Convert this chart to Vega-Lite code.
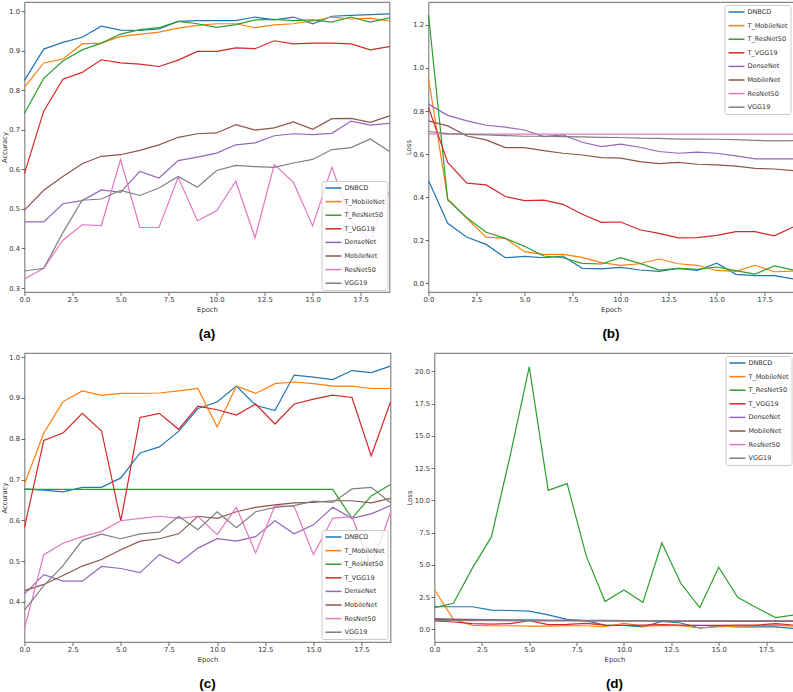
{
"$schema":"https://vega.github.io/schema/vega-lite/v6.json",
"padding":{"left":0.5,"top":1,"right":0,"bottom":0},
"background":"white",
"datasets":{
"a":[
{"Epoch":0,"DNBCD":0.825,"T_MobileNet":0.808,"T_ResNet50":0.742,"T_VGG19":0.590,"DenseNet":0.467,"MobileNet":0.497,"ResNet50":0.323,"VGG19":0.343},
{"Epoch":1,"DNBCD":0.904,"T_MobileNet":0.869,"T_ResNet50":0.830,"T_VGG19":0.747,"DenseNet":0.467,"MobileNet":0.547,"ResNet50":0.350,"VGG19":0.350},
{"Epoch":2,"DNBCD":0.921,"T_MobileNet":0.879,"T_ResNet50":0.874,"T_VGG19":0.828,"DenseNet":0.513,"MobileNet":0.582,"ResNet50":0.421,"VGG19":0.440},
{"Epoch":3,"DNBCD":0.934,"T_MobileNet":0.917,"T_ResNet50":0.902,"T_VGG19":0.845,"DenseNet":0.521,"MobileNet":0.614,"ResNet50":0.460,"VGG19":0.522},
{"Epoch":4,"DNBCD":0.962,"T_MobileNet":0.919,"T_ResNet50":0.919,"T_VGG19":0.877,"DenseNet":0.548,"MobileNet":0.633,"ResNet50":0.458,"VGG19":0.525},
{"Epoch":5,"DNBCD":0.952,"T_MobileNet":0.936,"T_ResNet50":0.942,"T_VGG19":0.869,"DenseNet":0.542,"MobileNet":0.637,"ResNet50":0.625,"VGG19":0.547},
{"Epoch":6,"DNBCD":0.951,"T_MobileNet":0.941,"T_ResNet50":0.953,"T_VGG19":0.866,"DenseNet":0.595,"MobileNet":0.648,"ResNet50":0.453,"VGG19":0.534},
{"Epoch":7,"DNBCD":0.955,"T_MobileNet":0.947,"T_ResNet50":0.958,"T_VGG19":0.860,"DenseNet":0.578,"MobileNet":0.662,"ResNet50":0.453,"VGG19":0.553},
{"Epoch":8,"DNBCD":0.974,"T_MobileNet":0.957,"T_ResNet50":0.974,"T_VGG19":0.876,"DenseNet":0.622,"MobileNet":0.681,"ResNet50":0.580,"VGG19":0.582},
{"Epoch":9,"DNBCD":0.976,"T_MobileNet":0.964,"T_ResNet50":0.968,"T_VGG19":0.898,"DenseNet":0.631,"MobileNet":0.690,"ResNet50":0.470,"VGG19":0.555},
{"Epoch":10,"DNBCD":0.976,"T_MobileNet":0.968,"T_ResNet50":0.959,"T_VGG19":0.898,"DenseNet":0.641,"MobileNet":0.692,"ResNet50":0.495,"VGG19":0.597},
{"Epoch":11,"DNBCD":0.976,"T_MobileNet":0.968,"T_ResNet50":0.966,"T_VGG19":0.907,"DenseNet":0.662,"MobileNet":0.713,"ResNet50":0.570,"VGG19":0.610},
{"Epoch":12,"DNBCD":0.985,"T_MobileNet":0.958,"T_ResNet50":0.978,"T_VGG19":0.905,"DenseNet":0.667,"MobileNet":0.699,"ResNet50":0.427,"VGG19":0.607},
{"Epoch":13,"DNBCD":0.978,"T_MobileNet":0.965,"T_ResNet50":0.979,"T_VGG19":0.925,"DenseNet":0.685,"MobileNet":0.705,"ResNet50":0.612,"VGG19":0.605},
{"Epoch":14,"DNBCD":0.985,"T_MobileNet":0.968,"T_ResNet50":0.976,"T_VGG19":0.917,"DenseNet":0.690,"MobileNet":0.720,"ResNet50":0.567,"VGG19":0.616},
{"Epoch":15,"DNBCD":0.968,"T_MobileNet":0.975,"T_ResNet50":0.978,"T_VGG19":0.919,"DenseNet":0.688,"MobileNet":0.701,"ResNet50":0.457,"VGG19":0.625},
{"Epoch":16,"DNBCD":0.987,"T_MobileNet":0.985,"T_ResNet50":0.972,"T_VGG19":0.919,"DenseNet":0.691,"MobileNet":0.728,"ResNet50":0.605,"VGG19":0.650},
{"Epoch":17,"DNBCD":0.989,"T_MobileNet":0.980,"T_ResNet50":0.985,"T_VGG19":0.917,"DenseNet":0.722,"MobileNet":0.729,"ResNet50":0.470,"VGG19":0.655},
{"Epoch":18,"DNBCD":0.991,"T_MobileNet":0.982,"T_ResNet50":0.972,"T_VGG19":0.902,"DenseNet":0.712,"MobileNet":0.719,"ResNet50":0.420,"VGG19":0.677},
{"Epoch":19,"DNBCD":0.993,"T_MobileNet":0.975,"T_ResNet50":0.983,"T_VGG19":0.910,"DenseNet":0.716,"MobileNet":0.735,"ResNet50":0.545,"VGG19":0.645}
],
"b":[
{"Epoch":0,"DNBCD":0.477,"T_MobileNet":0.952,"T_ResNet50":1.246,"T_VGG19":0.816,"DenseNet":0.832,"MobileNet":0.754,"ResNet50":0.694,"VGG19":0.705},
{"Epoch":1,"DNBCD":0.279,"T_MobileNet":0.392,"T_ResNet50":0.387,"T_VGG19":0.561,"DenseNet":0.780,"MobileNet":0.731,"ResNet50":0.693,"VGG19":0.695},
{"Epoch":2,"DNBCD":0.214,"T_MobileNet":0.302,"T_ResNet50":0.305,"T_VGG19":0.465,"DenseNet":0.754,"MobileNet":0.684,"ResNet50":0.693,"VGG19":0.692},
{"Epoch":3,"DNBCD":0.181,"T_MobileNet":0.215,"T_ResNet50":0.237,"T_VGG19":0.457,"DenseNet":0.734,"MobileNet":0.666,"ResNet50":0.693,"VGG19":0.689},
{"Epoch":4,"DNBCD":0.119,"T_MobileNet":0.209,"T_ResNet50":0.209,"T_VGG19":0.403,"DenseNet":0.725,"MobileNet":0.630,"ResNet50":0.693,"VGG19":0.686},
{"Epoch":5,"DNBCD":0.125,"T_MobileNet":0.147,"T_ResNet50":0.172,"T_VGG19":0.384,"DenseNet":0.712,"MobileNet":0.630,"ResNet50":0.693,"VGG19":0.683},
{"Epoch":6,"DNBCD":0.119,"T_MobileNet":0.135,"T_ResNet50":0.127,"T_VGG19":0.386,"DenseNet":0.681,"MobileNet":0.616,"ResNet50":0.693,"VGG19":0.683},
{"Epoch":7,"DNBCD":0.127,"T_MobileNet":0.135,"T_ResNet50":0.119,"T_VGG19":0.367,"DenseNet":0.689,"MobileNet":0.604,"ResNet50":0.693,"VGG19":0.681},
{"Epoch":8,"DNBCD":0.070,"T_MobileNet":0.121,"T_ResNet50":0.093,"T_VGG19":0.321,"DenseNet":0.655,"MobileNet":0.596,"ResNet50":0.693,"VGG19":0.680},
{"Epoch":9,"DNBCD":0.067,"T_MobileNet":0.096,"T_ResNet50":0.090,"T_VGG19":0.283,"DenseNet":0.635,"MobileNet":0.584,"ResNet50":0.693,"VGG19":0.678},
{"Epoch":10,"DNBCD":0.074,"T_MobileNet":0.084,"T_ResNet50":0.119,"T_VGG19":0.285,"DenseNet":0.646,"MobileNet":0.581,"ResNet50":0.693,"VGG19":0.677},
{"Epoch":11,"DNBCD":0.062,"T_MobileNet":0.091,"T_ResNet50":0.093,"T_VGG19":0.249,"DenseNet":0.632,"MobileNet":0.565,"ResNet50":0.693,"VGG19":0.674},
{"Epoch":12,"DNBCD":0.056,"T_MobileNet":0.113,"T_ResNet50":0.062,"T_VGG19":0.232,"DenseNet":0.612,"MobileNet":0.556,"ResNet50":0.693,"VGG19":0.673},
{"Epoch":13,"DNBCD":0.070,"T_MobileNet":0.091,"T_ResNet50":0.070,"T_VGG19":0.211,"DenseNet":0.604,"MobileNet":0.562,"ResNet50":0.693,"VGG19":0.670},
{"Epoch":14,"DNBCD":0.060,"T_MobileNet":0.084,"T_ResNet50":0.065,"T_VGG19":0.212,"DenseNet":0.609,"MobileNet":0.553,"ResNet50":0.693,"VGG19":0.670},
{"Epoch":15,"DNBCD":0.094,"T_MobileNet":0.060,"T_ResNet50":0.076,"T_VGG19":0.223,"DenseNet":0.604,"MobileNet":0.550,"ResNet50":0.693,"VGG19":0.669},
{"Epoch":16,"DNBCD":0.042,"T_MobileNet":0.056,"T_ResNet50":0.059,"T_VGG19":0.240,"DenseNet":0.592,"MobileNet":0.544,"ResNet50":0.693,"VGG19":0.667},
{"Epoch":17,"DNBCD":0.036,"T_MobileNet":0.084,"T_ResNet50":0.043,"T_VGG19":0.240,"DenseNet":0.578,"MobileNet":0.534,"ResNet50":0.693,"VGG19":0.664},
{"Epoch":18,"DNBCD":0.036,"T_MobileNet":0.054,"T_ResNet50":0.081,"T_VGG19":0.221,"DenseNet":0.578,"MobileNet":0.531,"ResNet50":0.693,"VGG19":0.661},
{"Epoch":19,"DNBCD":0.020,"T_MobileNet":0.057,"T_ResNet50":0.062,"T_VGG19":0.262,"DenseNet":0.578,"MobileNet":0.523,"ResNet50":0.693,"VGG19":0.663}
],
"c":[
{"Epoch":0,"DNBCD":0.677,"T_MobileNet":0.689,"T_ResNet50":0.676,"T_VGG19":0.583,"DenseNet":0.420,"MobileNet":0.428,"ResNet50":0.335,"VGG19":0.380},
{"Epoch":1,"DNBCD":0.674,"T_MobileNet":0.814,"T_ResNet50":0.676,"T_VGG19":0.796,"DenseNet":0.467,"MobileNet":0.443,"ResNet50":0.516,"VGG19":0.440},
{"Epoch":2,"DNBCD":0.670,"T_MobileNet":0.891,"T_ResNet50":0.676,"T_VGG19":0.814,"DenseNet":0.451,"MobileNet":0.465,"ResNet50":0.544,"VGG19":0.489},
{"Epoch":3,"DNBCD":0.681,"T_MobileNet":0.917,"T_ResNet50":0.676,"T_VGG19":0.862,"DenseNet":0.451,"MobileNet":0.488,"ResNet50":0.560,"VGG19":0.551},
{"Epoch":4,"DNBCD":0.681,"T_MobileNet":0.906,"T_ResNet50":0.676,"T_VGG19":0.819,"DenseNet":0.487,"MobileNet":0.504,"ResNet50":0.573,"VGG19":0.566},
{"Epoch":5,"DNBCD":0.704,"T_MobileNet":0.911,"T_ResNet50":0.676,"T_VGG19":0.599,"DenseNet":0.482,"MobileNet":0.528,"ResNet50":0.599,"VGG19":0.555},
{"Epoch":6,"DNBCD":0.765,"T_MobileNet":0.911,"T_ResNet50":0.676,"T_VGG19":0.852,"DenseNet":0.472,"MobileNet":0.549,"ResNet50":0.605,"VGG19":0.567},
{"Epoch":7,"DNBCD":0.780,"T_MobileNet":0.912,"T_ResNet50":0.676,"T_VGG19":0.862,"DenseNet":0.516,"MobileNet":0.555,"ResNet50":0.610,"VGG19":0.571},
{"Epoch":8,"DNBCD":0.818,"T_MobileNet":0.917,"T_ResNet50":0.676,"T_VGG19":0.823,"DenseNet":0.495,"MobileNet":0.567,"ResNet50":0.605,"VGG19":0.610},
{"Epoch":9,"DNBCD":0.874,"T_MobileNet":0.923,"T_ResNet50":0.676,"T_VGG19":0.880,"DenseNet":0.532,"MobileNet":0.610,"ResNet50":0.610,"VGG19":0.577},
{"Epoch":10,"DNBCD":0.890,"T_MobileNet":0.829,"T_ResNet50":0.676,"T_VGG19":0.871,"DenseNet":0.555,"MobileNet":0.605,"ResNet50":0.565,"VGG19":0.621},
{"Epoch":11,"DNBCD":0.929,"T_MobileNet":0.929,"T_ResNet50":0.676,"T_VGG19":0.858,"DenseNet":0.549,"MobileNet":0.621,"ResNet50":0.632,"VGG19":0.582},
{"Epoch":12,"DNBCD":0.882,"T_MobileNet":0.911,"T_ResNet50":0.676,"T_VGG19":0.885,"DenseNet":0.560,"MobileNet":0.632,"ResNet50":0.520,"VGG19":0.621},
{"Epoch":13,"DNBCD":0.869,"T_MobileNet":0.935,"T_ResNet50":0.676,"T_VGG19":0.836,"DenseNet":0.599,"MobileNet":0.638,"ResNet50":0.636,"VGG19":0.632},
{"Epoch":14,"DNBCD":0.956,"T_MobileNet":0.939,"T_ResNet50":0.676,"T_VGG19":0.885,"DenseNet":0.567,"MobileNet":0.643,"ResNet50":0.634,"VGG19":0.636},
{"Epoch":15,"DNBCD":0.951,"T_MobileNet":0.935,"T_ResNet50":0.676,"T_VGG19":0.897,"DenseNet":0.589,"MobileNet":0.644,"ResNet50":0.516,"VGG19":0.647},
{"Epoch":16,"DNBCD":0.945,"T_MobileNet":0.929,"T_ResNet50":0.676,"T_VGG19":0.907,"DenseNet":0.632,"MobileNet":0.648,"ResNet50":0.605,"VGG19":0.644},
{"Epoch":17,"DNBCD":0.967,"T_MobileNet":0.929,"T_ResNet50":0.605,"T_VGG19":0.901,"DenseNet":0.605,"MobileNet":0.648,"ResNet50":0.609,"VGG19":0.677},
{"Epoch":18,"DNBCD":0.962,"T_MobileNet":0.923,"T_ResNet50":0.660,"T_VGG19":0.758,"DenseNet":0.616,"MobileNet":0.643,"ResNet50":0.485,"VGG19":0.681},
{"Epoch":19,"DNBCD":0.978,"T_MobileNet":0.923,"T_ResNet50":0.688,"T_VGG19":0.890,"DenseNet":0.636,"MobileNet":0.654,"ResNet50":0.620,"VGG19":0.643}
],
"d":[
{"Epoch":0,"DNBCD":1.76,"T_MobileNet":3.06,"T_ResNet50":1.69,"T_VGG19":0.66,"DenseNet":0.84,"MobileNet":0.78,"ResNet50":0.693,"VGG19":0.71},
{"Epoch":1,"DNBCD":1.76,"T_MobileNet":0.79,"T_ResNet50":2.03,"T_VGG19":0.58,"DenseNet":0.80,"MobileNet":0.76,"ResNet50":0.693,"VGG19":0.70},
{"Epoch":2,"DNBCD":1.76,"T_MobileNet":0.32,"T_ResNet50":4.75,"T_VGG19":0.45,"DenseNet":0.78,"MobileNet":0.74,"ResNet50":0.693,"VGG19":0.70},
{"Epoch":3,"DNBCD":1.50,"T_MobileNet":0.29,"T_ResNet50":7.17,"T_VGG19":0.42,"DenseNet":0.76,"MobileNet":0.72,"ResNet50":0.693,"VGG19":0.70},
{"Epoch":4,"DNBCD":1.47,"T_MobileNet":0.29,"T_ResNet50":13.5,"T_VGG19":0.45,"DenseNet":0.75,"MobileNet":0.71,"ResNet50":0.693,"VGG19":0.69},
{"Epoch":5,"DNBCD":1.42,"T_MobileNet":0.26,"T_ResNet50":20.34,"T_VGG19":0.68,"DenseNet":0.74,"MobileNet":0.70,"ResNet50":0.693,"VGG19":0.69},
{"Epoch":6,"DNBCD":1.13,"T_MobileNet":0.26,"T_ResNet50":10.78,"T_VGG19":0.37,"DenseNet":0.73,"MobileNet":0.69,"ResNet50":0.693,"VGG19":0.69},
{"Epoch":7,"DNBCD":0.79,"T_MobileNet":0.30,"T_ResNet50":11.3,"T_VGG19":0.39,"DenseNet":0.72,"MobileNet":0.68,"ResNet50":0.693,"VGG19":0.69},
{"Epoch":8,"DNBCD":0.66,"T_MobileNet":0.29,"T_ResNet50":5.74,"T_VGG19":0.47,"DenseNet":0.71,"MobileNet":0.67,"ResNet50":0.693,"VGG19":0.69},
{"Epoch":9,"DNBCD":0.34,"T_MobileNet":0.21,"T_ResNet50":2.16,"T_VGG19":0.34,"DenseNet":0.70,"MobileNet":0.67,"ResNet50":0.693,"VGG19":0.68},
{"Epoch":10,"DNBCD":0.32,"T_MobileNet":0.47,"T_ResNet50":3.06,"T_VGG19":0.32,"DenseNet":0.69,"MobileNet":0.66,"ResNet50":0.693,"VGG19":0.68},
{"Epoch":11,"DNBCD":0.20,"T_MobileNet":0.26,"T_ResNet50":2.10,"T_VGG19":0.34,"DenseNet":0.69,"MobileNet":0.66,"ResNet50":0.693,"VGG19":0.68},
{"Epoch":12,"DNBCD":0.63,"T_MobileNet":0.29,"T_ResNet50":6.70,"T_VGG19":0.37,"DenseNet":0.68,"MobileNet":0.65,"ResNet50":0.693,"VGG19":0.68},
{"Epoch":13,"DNBCD":0.50,"T_MobileNet":0.29,"T_ResNet50":3.58,"T_VGG19":0.34,"DenseNet":0.67,"MobileNet":0.65,"ResNet50":0.693,"VGG19":0.67},
{"Epoch":14,"DNBCD":0.10,"T_MobileNet":0.13,"T_ResNet50":1.69,"T_VGG19":0.32,"DenseNet":0.67,"MobileNet":0.64,"ResNet50":0.693,"VGG19":0.67},
{"Epoch":15,"DNBCD":0.25,"T_MobileNet":0.21,"T_ResNet50":4.83,"T_VGG19":0.32,"DenseNet":0.66,"MobileNet":0.64,"ResNet50":0.693,"VGG19":0.67},
{"Epoch":16,"DNBCD":0.20,"T_MobileNet":0.26,"T_ResNet50":2.50,"T_VGG19":0.34,"DenseNet":0.66,"MobileNet":0.63,"ResNet50":0.693,"VGG19":0.67},
{"Epoch":17,"DNBCD":0.20,"T_MobileNet":0.30,"T_ResNet50":1.68,"T_VGG19":0.34,"DenseNet":0.65,"MobileNet":0.63,"ResNet50":0.693,"VGG19":0.66},
{"Epoch":18,"DNBCD":0.20,"T_MobileNet":0.34,"T_ResNet50":0.92,"T_VGG19":0.45,"DenseNet":0.65,"MobileNet":0.62,"ResNet50":0.693,"VGG19":0.66},
{"Epoch":19,"DNBCD":0.08,"T_MobileNet":0.26,"T_ResNet50":1.13,"T_VGG19":0.34,"DenseNet":0.64,"MobileNet":0.62,"ResNet50":0.693,"VGG19":0.66}
]
},
"vconcat":[
{"hconcat":[
{"width":365,"height":290,"data":{"name":"a"},
 "transform":[{"fold":["DNBCD","T_MobileNet","T_ResNet50","T_VGG19","DenseNet","MobileNet","ResNet50","VGG19"],"as":["Model","Value"]}],
 "mark":{"type":"line","strokeWidth":1.2},
 "encoding":{
  "x":{"field":"Epoch","type":"quantitative","scale":{"domain":[0,19],"nice":false,"zero":false},"axis":{"values":[0,2.5,5,7.5,10,12.5,15,17.5],"format":".1f","title":"Epoch"}},
  "y":{"field":"Value","type":"quantitative","scale":{"domain":[0.29,1.023],"nice":false,"zero":false},"axis":{"values":[0.3,0.4,0.5,0.6,0.7,0.8,0.9,1.0],"format":".1f","title":"Accuracy"}},
  "color":{"field":"Model","type":"nominal","scale":{"domain":["DNBCD","T_MobileNet","T_ResNet50","T_VGG19","DenseNet","MobileNet","ResNet50","VGG19"],"range":["#1f77b4","#ff7f0e","#2ca02c","#d62728","#9467bd","#8c564b","#e377c2","#7f7f7f"]},"legend":{"orient":"bottom-right","offset":2}}
 },
 "title":{"text":"(a)"}
},
{"width":365,"height":290,"data":{"name":"b"},
 "transform":[{"fold":["DNBCD","T_MobileNet","T_ResNet50","T_VGG19","DenseNet","MobileNet","ResNet50","VGG19"],"as":["Model","Value"]}],
 "mark":{"type":"line","strokeWidth":1.2},
 "encoding":{
  "x":{"field":"Epoch","type":"quantitative","scale":{"domain":[0,19],"nice":false,"zero":false},"axis":{"values":[0,2.5,5,7.5,10,12.5,15,17.5],"format":".1f","title":"Epoch"}},
  "y":{"field":"Value","type":"quantitative","scale":{"domain":[-0.04,1.306],"nice":false,"zero":false},"axis":{"values":[0,0.2,0.4,0.6,0.8,1.0,1.2],"format":".1f","title":"Loss"}},
  "color":{"field":"Model","type":"nominal","scale":{"domain":["DNBCD","T_MobileNet","T_ResNet50","T_VGG19","DenseNet","MobileNet","ResNet50","VGG19"],"range":["#1f77b4","#ff7f0e","#2ca02c","#d62728","#9467bd","#8c564b","#e377c2","#7f7f7f"]},"legend":{"orient":"top-right","offset":3}}
 },
 "title":{"text":"(b)"}
}
],"spacing":12,"resolve":{"scale":{"color":"independent"},"legend":{"color":"independent"}}},
{"hconcat":[
{"width":366,"height":289,"data":{"name":"c"},
 "transform":[{"fold":["DNBCD","T_MobileNet","T_ResNet50","T_VGG19","DenseNet","MobileNet","ResNet50","VGG19"],"as":["Model","Value"]}],
 "mark":{"type":"line","strokeWidth":1.2},
 "encoding":{
  "x":{"field":"Epoch","type":"quantitative","scale":{"domain":[0,19],"nice":false,"zero":false},"axis":{"values":[0,2.5,5,7.5,10,12.5,15,17.5],"format":".1f","title":"Epoch"}},
  "y":{"field":"Value","type":"quantitative","scale":{"domain":[0.302,1.010],"nice":false,"zero":false},"axis":{"values":[0.4,0.5,0.6,0.7,0.8,0.9,1.0],"format":".1f","title":"Accuracy"}},
  "color":{"field":"Model","type":"nominal","scale":{"domain":["DNBCD","T_MobileNet","T_ResNet50","T_VGG19","DenseNet","MobileNet","ResNet50","VGG19"],"range":["#1f77b4","#ff7f0e","#2ca02c","#d62728","#9467bd","#8c564b","#e377c2","#7f7f7f"]},"legend":{"orient":"bottom-right","offset":3}}
 },
 "title":{"text":"(c)"}
},
{"width":360,"height":289,"data":{"name":"d"},
 "transform":[{"fold":["DNBCD","T_MobileNet","T_ResNet50","T_VGG19","DenseNet","MobileNet","ResNet50","VGG19"],"as":["Model","Value"]}],
 "mark":{"type":"line","strokeWidth":1.2},
 "encoding":{
  "x":{"field":"Epoch","type":"quantitative","scale":{"domain":[0,19],"nice":false,"zero":false},"axis":{"values":[0,2.5,5,7.5,10,12.5,15,17.5],"format":".1f","title":"Epoch"}},
  "y":{"field":"Value","type":"quantitative","scale":{"domain":[-0.97,21.42],"nice":false,"zero":false},"axis":{"values":[0,2.5,5,7.5,10,12.5,15,17.5,20],"format":".1f","title":"Loss"}},
  "color":{"field":"Model","type":"nominal","scale":{"domain":["DNBCD","T_MobileNet","T_ResNet50","T_VGG19","DenseNet","MobileNet","ResNet50","VGG19"],"range":["#1f77b4","#ff7f0e","#2ca02c","#d62728","#9467bd","#8c564b","#e377c2","#7f7f7f"]},"legend":{"orient":"top-right","offset":3}}
 },
 "title":{"text":"(d)"}
}
],"spacing":12,"resolve":{"scale":{"color":"independent"},"legend":{"color":"independent"}}}
],
"spacing":11,
"resolve":{"scale":{"color":"independent"},"legend":{"color":"independent"}},
"config":{
 "font":"DejaVu Sans",
 "view":{"stroke":"#888","strokeWidth":1.2},
 "axis":{"domain":false,"grid":false,"tickSize":3.5,"tickColor":"#444","tickWidth":0.8,"labelFontSize":6.8,"labelColor":"#333","labelFlush":false,"labelPadding":1.2,"titleFontSize":6.8,"titleFontWeight":"normal","titleColor":"#333","titlePadding":2.5},
 "axisY":{"labelPadding":1.5,"titlePadding":1.5},
 "legend":{"title":null,"symbolType":"M-1,0H4.33","symbolSize":36,"symbolStrokeWidth":1.5,"labelFontSize":6.5,"labelColor":"#333","labelOffset":12,"fillColor":"rgba(255,255,255,0.8)","strokeColor":"#ccc","cornerRadius":2,"padding":3,"rowPadding":5.6},
 "title":{"orient":"bottom","font":"Liberation Sans","fontSize":13.5,"fontWeight":"bold","color":"#000","offset":14,"anchor":"middle"}
}
}
